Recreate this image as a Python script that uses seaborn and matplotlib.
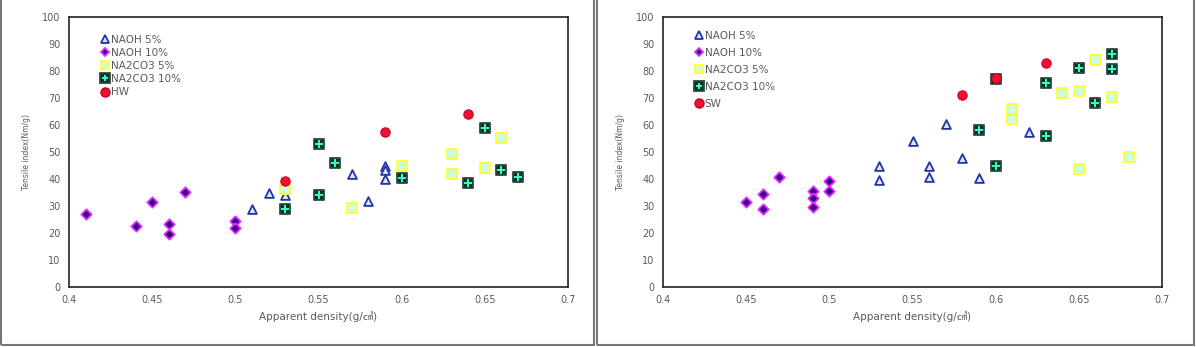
import matplotlib
matplotlib.use("Agg")
import matplotlib.pyplot as plt
import seaborn as sns
import pandas as pd
from matplotlib.lines import Line2D
from matplotlib.patches import Rectangle

# ---------------------------------------------------------------------------
# Data (apparent density vs tensile index)
# ---------------------------------------------------------------------------

# left panel (HW)
hw_naoh5_x = [0.51, 0.52, 0.53, 0.57, 0.58, 0.59, 0.59, 0.59]
hw_naoh5_y = [29, 34.8, 34, 41.8, 31.7, 44.8, 43.2, 40]
hw_naoh10_x = [0.41, 0.44, 0.45, 0.46, 0.46, 0.47, 0.50, 0.50]
hw_naoh10_y = [27.2, 22.6, 31.4, 23.5, 19.8, 35.3, 24.5, 22.0]
hw_na2co3_5_x = [0.53, 0.57, 0.60, 0.63, 0.63, 0.65, 0.66]
hw_na2co3_5_y = [36.3, 29.4, 44.8, 49.4, 42.0, 44.2, 55.3]
hw_na2co3_10_x = [0.53, 0.55, 0.55, 0.56, 0.60, 0.64, 0.65, 0.66, 0.67]
hw_na2co3_10_y = [28.8, 53, 34.1, 45.8, 40.5, 38.7, 59, 43.2, 40.8]
hw_ref_x = [0.53, 0.59, 0.64]
hw_ref_y = [39.3, 57.4, 64.2]

# right panel (SW)
sw_naoh5_x = [0.53, 0.53, 0.55, 0.56, 0.56, 0.57, 0.58, 0.59, 0.62]
sw_naoh5_y = [44.9, 39.6, 54, 44.8, 40.9, 60.2, 47.7, 40.2, 57.3]
sw_naoh10_x = [0.45, 0.46, 0.46, 0.47, 0.49, 0.49, 0.49, 0.50, 0.50]
sw_naoh10_y = [31.6, 34.6, 28.9, 40.7, 35.6, 33.1, 29.5, 39.4, 35.4]
sw_na2co3_5_x = [0.61, 0.61, 0.64, 0.65, 0.65, 0.66, 0.67, 0.68]
sw_na2co3_5_y = [65.9, 62.1, 72, 72.6, 43.6, 84.1, 70.5, 48.3]
sw_na2co3_10_x = [0.59, 0.60, 0.60, 0.63, 0.63, 0.65, 0.66, 0.67, 0.67]
sw_na2co3_10_y = [58.1, 44.9, 76.9, 75.4, 55.9, 81, 68, 86.3, 80.7]
sw_ref_x = [0.58, 0.60, 0.63]
sw_ref_y = [71.1, 77.5, 82.9]

series_names = ["NAOH 5%", "NAOH 10%", "NA2CO3 5%", "NA2CO3 10%"]
x_ticks = [0.4, 0.45, 0.5, 0.55, 0.6, 0.65, 0.7]
x_tick_labels = ["0.4", "0.45", "0.5", "0.55", "0.6", "0.65", "0.7"]
y_ticks = [0, 10, 20, 30, 40, 50, 60, 70, 80, 90, 100]

TXT = "#5a5a5a"
FONTS = ["DejaVu Sans", "Noto Sans CJK KR"]

sns.set_style("white")
plt.rcParams["font.family"] = FONTS
plt.rcParams["axes.edgecolor"] = "#222222"

# marker styles: (marker, face, edge, size)
styles = {
    "NAOH 5%": ("^", "#dfe8ff", "#2233aa", 40),
    "NAOH 10%": ("D", "#3a0088", "#e030ff", 28),
    "NA2CO3 5%": ("s", "#ccffdd", "#ffff30", 50),
    "NA2CO3 10%": ("s", "#00331c", "#2f4a3a", 58),
    "REF": ("o", "#ee1133", "#cc0022", 45),
}
legend_sizes = {"NAOH 5%": 6, "NAOH 10%": 4.5, "NA2CO3 5%": 6,
                "NA2CO3 10%": 6.5, "REF": 6.5}


def draw_panel(ax, groups, ref, ref_name, leg_anchor, leg_spacing):
    for name, (xs, ys) in zip(series_names, groups):
        m, fc, ec, s = styles[name]
        df = pd.DataFrame({"x": xs, "y": ys})
        sns.scatterplot(data=df, x="x", y="y", ax=ax, marker=m, s=s,
                        color=fc, edgecolor=ec, linewidth=1.3, zorder=3)
        if name == "NA2CO3 10%":
            sns.scatterplot(data=df, x="x", y="y", ax=ax, marker="+", s=38,
                            color="#33ffdd", linewidth=1.4, zorder=4)
    m, fc, ec, s = styles["REF"]
    sns.scatterplot(x=ref[0], y=ref[1], ax=ax, marker=m, s=s, color=fc,
                    edgecolor=ec, linewidth=0.8, zorder=5)

    ax.set_xlim(0.4, 0.7)
    ax.set_ylim(0, 100)
    ax.set_xticks(x_ticks)
    ax.set_xticklabels(x_tick_labels)
    ax.set_yticks(y_ticks)
    ax.tick_params(direction="in", length=4, width=1, colors="#222222",
                   labelcolor=TXT, labelsize=7, pad=6)
    for sp in ax.spines.values():
        sp.set_linewidth(1.2)
        sp.set_visible(True)
    ax.set_xlabel("Apparent density(g/㎤)", fontsize=7.5, color=TXT, labelpad=4)
    ax.set_ylabel("Tensile index(Nm/g)", fontsize=5.5, color=TXT, labelpad=8)

    handles = []
    for name in series_names:
        m, fc, ec, s = styles[name]
        h = Line2D([], [], ls="", marker=m, markersize=legend_sizes[name],
                   markerfacecolor=fc, markeredgecolor=ec, markeredgewidth=1.3)
        if name == "NA2CO3 10%":
            hp = Line2D([], [], ls="", marker="+", markersize=5,
                        color="#33ffdd", markeredgewidth=1.4)
            h = (h, hp)
        handles.append(h)
    m, fc, ec, s = styles["REF"]
    handles.append(Line2D([], [], ls="", marker=m, markersize=legend_sizes["REF"],
                          markerfacecolor=fc, markeredgecolor=ec))
    leg = ax.legend(handles, series_names + [ref_name], loc="upper left",
                    bbox_to_anchor=leg_anchor, frameon=False, fontsize=7.5,
                    handlelength=0.8, handletextpad=0.15,
                    labelspacing=leg_spacing, borderaxespad=0)
    for t in leg.get_texts():
        t.set_color(TXT)


fig = plt.figure(figsize=(11.96, 3.47), dpi=100)
ax1 = fig.add_axes([69 / 1196, 60 / 347, 499 / 1196, 270 / 347])
ax2 = fig.add_axes([663 / 1196, 60 / 347, 499 / 1196, 270 / 347])

draw_panel(ax1,
           [(hw_naoh5_x, hw_naoh5_y), (hw_naoh10_x, hw_naoh10_y),
            (hw_na2co3_5_x, hw_na2co3_5_y), (hw_na2co3_10_x, hw_na2co3_10_y)],
           (hw_ref_x, hw_ref_y), "HW", (0.055, 0.95), 0.3)
draw_panel(ax2,
           [(sw_naoh5_x, sw_naoh5_y), (sw_naoh10_x, sw_naoh10_y),
            (sw_na2co3_5_x, sw_na2co3_5_y), (sw_na2co3_10_x, sw_na2co3_10_y)],
           (sw_ref_x, sw_ref_y), "SW", (0.055, 0.965), 0.68)

# panel frames
for x0, x1 in [(1, 594), (597, 1194)]:
    fig.patches.append(Rectangle((x0 / 1196, 2 / 347), (x1 - x0) / 1196, 350 / 347,
                                 transform=fig.transFigure, fill=False,
                                 edgecolor="#777777", linewidth=1.5))

fig.savefig("out.png", dpi=100)
